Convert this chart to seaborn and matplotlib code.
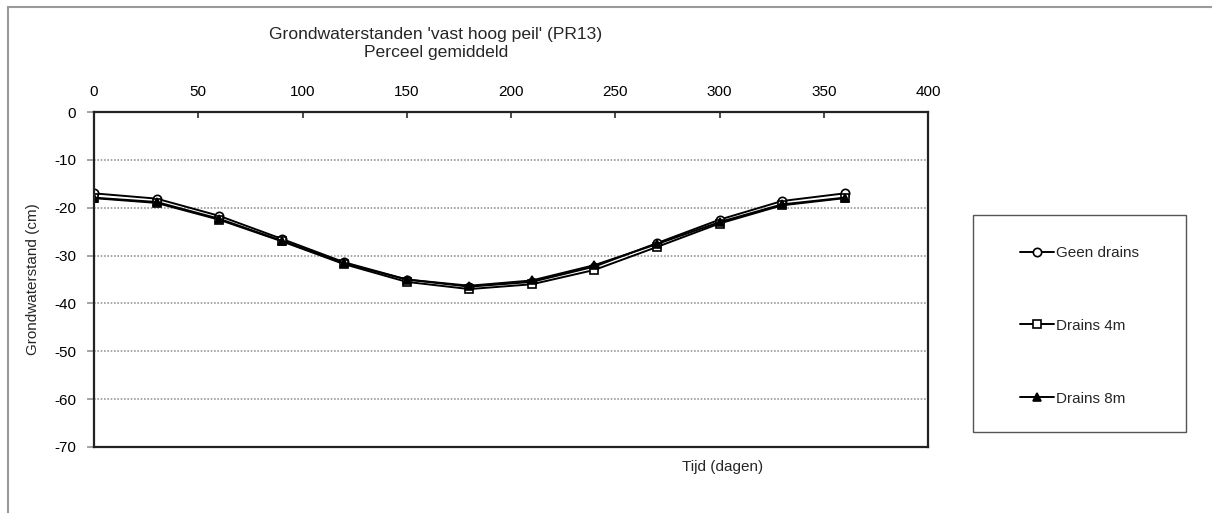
import matplotlib
matplotlib.use("Agg")
import matplotlib.pyplot as plt
from matplotlib.patches import Rectangle
import seaborn as sns
import pandas as pd

# Days since start and mean groundwater level per scenario (cm)
dagen = [0, 30, 60, 90, 120, 150, 180, 210, 240, 270, 300, 330, 360]
geen_drains = [-17.0, -18.1, -21.7, -26.5, -31.4, -35.0, -36.5, -35.5, -32.3, -27.4, -22.5, -18.6, -17.0]
drains_4m = [-18.0, -19.0, -22.5, -27.0, -31.8, -35.5, -37.0, -36.0, -33.0, -28.2, -23.3, -19.5, -18.0]
drains_8m = [-17.9, -18.8, -22.3, -26.9, -31.6, -35.0, -36.3, -35.2, -32.0, -27.6, -23.0, -19.3, -17.9]

series_names = ["Geen drains", "Drains 4m", "Drains 8m"]
x_ticks = [0, 50, 100, 150, 200, 250, 300, 350, 400]
y_ticks = [0, -10, -20, -30, -40, -50, -60, -70]

df = pd.DataFrame({"dag": dagen, series_names[0]: geen_drains,
                   series_names[1]: drains_4m, series_names[2]: drains_8m})

sns.set_theme(style="white")
plt.rcParams["font.family"] = ["Liberation Sans", "DejaVu Sans"]
plt.rcParams["axes.unicode_minus"] = False

W, H = 1212, 513
fig = plt.figure(figsize=(W / 100, H / 100), dpi=100)
fig.patch.set_facecolor("white")

def fx(px):
    return px / W

def fy(py):
    return 1 - py / H

# outer chart frame (runs off the right and bottom edges)
fig.add_artist(Rectangle((fx(8), fy(530)), fx(1230) - fx(8), fy(7) - fy(530),
                         transform=fig.transFigure, fill=False,
                         edgecolor="#9a9a9a", lw=1.5))

ax = fig.add_axes([fx(94), fy(447), fx(928) - fx(94), fy(112) - fy(447)])

styles = {
    "Geen drains": dict(marker="o", markerfacecolor="white"),
    "Drains 4m": dict(marker="s", markerfacecolor="white"),
    "Drains 8m": dict(marker="^", markerfacecolor="black"),
}
for name in series_names:
    sns.lineplot(data=df, x="dag", y=name, ax=ax, color="black", lw=1.8,
                 markersize=7, markeredgecolor="black", markeredgewidth=1.2,
                 label=name, legend=False, **styles[name])

ax.set_xlim(0, 400)
ax.set_ylim(-70, 0)
ax.set_xticks(x_ticks)
ax.set_yticks(y_ticks)
ax.xaxis.tick_top()
ax.xaxis.set_label_position("top")
ax.tick_params(axis="x", which="both", top=True, bottom=False, direction="in",
               length=4, color="#333333", labelsize=11, pad=9, labelcolor="black")
ax.tick_params(axis="y", left=True, direction="out", length=5, color="#999999",
               labelsize=11, pad=8, labelcolor="black")
ax.set_xlabel("")
ax.set_ylabel("Grondwaterstand (cm)", fontsize=11, labelpad=10)
ax.yaxis.grid(True, linestyle=(0, (1, 1)), color="#999999", lw=1.2)
ax.xaxis.grid(False)
for s in ax.spines.values():
    s.set_visible(True)
    s.set_color("#222222")
    s.set_linewidth(1.6)

fig.text(fx(723), fy(467), "Tijd (dagen)", ha="center", va="center", fontsize=11)
fig.text(fx(436), fy(35), "Grondwaterstanden 'vast hoog peil' (PR13)",
         ha="center", va="center", fontsize=12.6)
fig.text(fx(436), fy(53), "Perceel gemiddeld", ha="center", va="center", fontsize=12.6)

# legend box
fig.add_artist(Rectangle((fx(973), fy(432)), fx(1186) - fx(973), fy(215) - fy(432),
                         transform=fig.transFigure, fill=False,
                         edgecolor="#555555", lw=1.0))
handles, labels = ax.get_legend_handles_labels()
for h in handles:
    h.set_markersize(6)
    h.set_linewidth(1.4)
leg = fig.legend(handles, labels, loc="upper left",
                 bbox_to_anchor=(fx(1020), fy(246)), frameon=False,
                 fontsize=11, labelspacing=3.85, handlelength=2.2,
                 handletextpad=0.15, borderpad=0, borderaxespad=0)

fig.savefig("out.png", dpi=100, facecolor="white")
